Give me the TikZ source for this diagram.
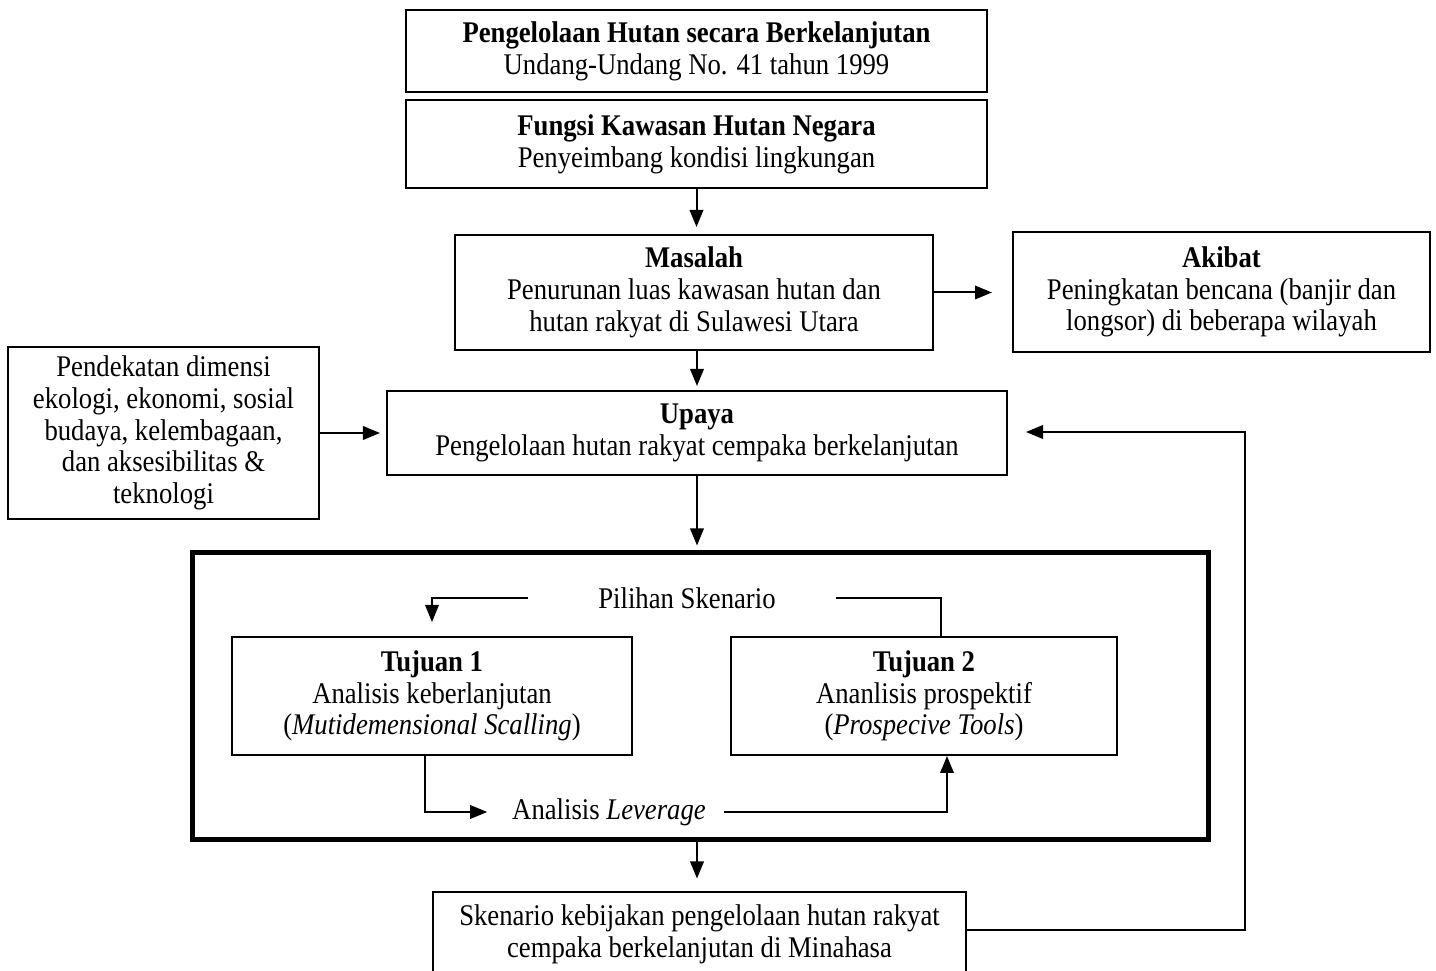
\documentclass[tikz,border=0pt]{standalone}
\usepackage{fontspec}
\setmainfont[FakeStretch=0.89]{Liberation Serif}
\usetikzlibrary{arrows.meta}

\begin{document}
\begin{tikzpicture}[x=0.4pt, y=-0.4pt,
    font=\fontsize{12}{12.7}\selectfont,
    kotak/.style={draw, line width=0.8pt, align=center, inner sep=2pt},
    teks/.style={align=center, inner sep=1pt},
    panah/.style={->, line width=0.8pt},
    >={Triangle[length=6.8pt, width=5.4pt]}
]
    \useasboundingbox (0,0) rectangle (1436,971);

    \node[kotak, minimum width=232.4pt, minimum height=32.8pt] (hukum) at (696.5,51)
        {\textbf{Pengelolaan Hutan secara Berkelanjutan}\\Undang-Undang No. 41 tahun 1999};
    \node[kotak, minimum width=232.4pt, minimum height=35.2pt] (fungsi) at (696.5,144)
        {\textbf{Fungsi Kawasan Hutan Negara}\\Penyeimbang kondisi lingkungan};
    \node[kotak, minimum width=191.2pt, minimum height=46pt] (masalah) at (694,292.5)
        {\textbf{Masalah}\\Penurunan luas kawasan hutan dan\\hutan rakyat di Sulawesi Utara};
    \node[kotak, minimum width=166.8pt, minimum height=48pt] (akibat) at (1221.5,292)
        {\textbf{Akibat}\\Peningkatan bencana (banjir dan\\longsor) di beberapa wilayah};
    \node[kotak, minimum width=124.4pt, minimum height=68.8pt] (pendekatan) at (163.5,433)
        {Pendekatan dimensi\\ekologi, ekonomi, sosial\\budaya, kelembagaan,\\dan aksesibilitas \&\\teknologi};
    \node[kotak, minimum width=248pt, minimum height=33.6pt] (upaya) at (697,433)
        {\textbf{Upaya}\\Pengelolaan hutan rakyat cempaka berkelanjutan};

    % bingkai tujuan penelitian
    \node[draw, line width=2pt, minimum width=406pt, minimum height=114.8pt] (frame) at (700.5,696.5) {};
    \node[teks] (pilihan) at (687,598) {Pilihan Skenario};
    \node[kotak, minimum width=160pt, minimum height=47.2pt] (tujuan1) at (432,696)
        {\textbf{Tujuan 1}\\Analisis keberlanjutan\\(\textit{Mutidemensional Scalling})};
    \node[kotak, minimum width=154.4pt, minimum height=47.2pt] (tujuan2) at (924,696)
        {\textbf{Tujuan 2}\\Ananlisis prospektif\\(\textit{Prospecive Tools})};
    \node[teks] (leverage) at (609,812) {Analisis \textit{Leverage}};

    \node[kotak, anchor=north, minimum width=213.2pt, inner ysep=5pt, text depth=22pt] (skenario) at (699.5,891)
        {Skenario kebijakan pengelolaan hutan rakyat\\cempaka berkelanjutan di Minahasa};
    \coordinate (balik) at (1245,432);

    \draw[panah, shorten >=2.8pt] (fungsi.south) -- (fungsi.south |- masalah.north);
    \draw[panah, shorten >=8pt] (masalah.east) -- (masalah.east -| akibat.west);
    \draw[panah, shorten >=1.6pt] (masalah.south -| upaya.north) -- (upaya.north);
    \draw[panah, shorten >=2.4pt] (pendekatan.east) -- (upaya.west);
    \draw[panah, shorten >=2pt] (upaya.south) -- (upaya.south |- frame.north);
    \draw[panah, shorten >=5pt] (frame.south -| upaya.south) -- (upaya.south |- skenario.north);
    \draw[panah, shorten >=5.6pt] ([xshift=-27pt]pilihan.west) -| (tujuan1.north);
    \draw[line width=0.8pt] ([xshift=23pt]pilihan.east) -| ([xshift=6.8pt]tujuan2.north);
    \draw[panah, shorten >=8.8pt] ([xshift=-2.8pt]tujuan1.south) |- (leverage.west);
    \draw[panah] ([xshift=6pt]leverage.east) -| ([xshift=9.2pt]tujuan2.south);
    \draw[panah, shorten >=7.2pt] ([yshift=-15.6pt]skenario.north east) -| (balik) -- (upaya.east |- balik);
\end{tikzpicture}
\end{document}
